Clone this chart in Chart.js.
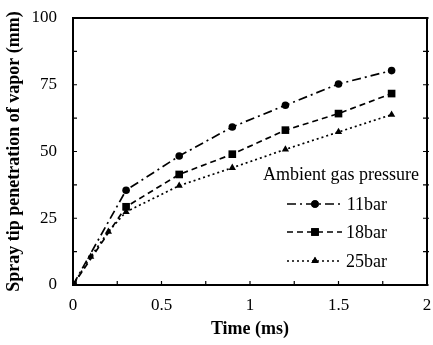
<!DOCTYPE html>
<html><head><meta charset="utf-8">
<script src="https://cdn.jsdelivr.net/npm/chart.js@4/dist/chart.umd.min.js"></script>
<style>html,body{margin:0;padding:0;background:#fff;overflow:hidden}#wrap{width:433px;height:345px}canvas{display:block}</style>
</head><body><div id="wrap"><canvas id="c" width="433" height="345"></canvas></div>
<script>
const seriesNames = ['11bar', '18bar', '25bar'];
const times = [0, 0.3, 0.6, 0.9, 1.2, 1.5, 1.8];
const p11 = [0, 35.5, 48.3, 59.2, 67.3, 75.3, 80.3];
const p18 = [0, 29.3, 41.4, 49.0, 58.0, 64.2, 71.7];
const times25 = [0, 0.1, 0.2, 0.3, 0.6, 0.9, 1.2, 1.5, 1.8];
const p25 = [0, 10.6, 20.0, 27.4, 37.2, 43.9, 50.8, 57.3, 63.8];
const xTicks = [0, 0.5, 1, 1.5, 2];
const xTickLabels = ['0', '0.5', '1', '1.5', '2'];
const yTicks = [0, 25, 50, 75, 100];
const yTickLabels = ['0', '25', '50', '75', '100'];
const xMinor = [0.25, 0.75, 1.25, 1.75];
const yMinor = [12.5, 37.5, 62.5, 87.5];
const legendTitle = 'Ambient gas pressure';
const xTitle = 'Time (ms)';
const yTitle = 'Spray tip penetration of vapor (mm)';

const FONT = "'Liberation Serif', 'DejaVu Serif', serif";
const toXY = (xs, ys) => xs.map((x, i) => ({x: x, y: ys[i]}));

const styles = [
  {dash: [9, 4, 2, 4], point: 'circle', radius: 3.8},
  {dash: [6, 4], point: 'rect', radius: 5.4},
  {dash: [2, 3], point: 'triangle', radius: 4.2}
];
const dataSets = [toXY(times, p11), toXY(times, p18), toXY(times25, p25)];

const framePlugin = {
  id: 'frame',
  afterDraw(chart) {
    const {ctx, chartArea: a, scales} = chart;
    ctx.save();
    ctx.strokeStyle = '#000';
    ctx.setLineDash([]);
    ctx.lineWidth = 1.2;
    const tl = 4;
    ctx.beginPath();
    [...xTicks, ...xMinor].forEach(v => {
      const x = scales.x.getPixelForValue(v);
      ctx.moveTo(x, a.bottom); ctx.lineTo(x, a.bottom - tl);
    });
    [...yTicks, ...yMinor].forEach(v => {
      const y = scales.y.getPixelForValue(v);
      ctx.moveTo(a.left, y); ctx.lineTo(a.left + tl, y);
      ctx.moveTo(a.right + 2, y); ctx.lineTo(a.right - tl, y);
    });
    ctx.stroke();

    // legend
    ctx.fillStyle = '#000';
    ctx.font = "18px " + FONT;
    ctx.textBaseline = 'middle';
    ctx.textAlign = 'center';
    ctx.fillText(legendTitle, 341, 175);
    const rows = [204, 232, 261];
    ctx.textAlign = 'right';
    seriesNames.forEach((name, i) => {
      const y = rows[i];
      const tw = ctx.measureText(name).width;
      const textRight = 387;
      const lineEnd = textRight - tw - 4;
      ctx.fillText(name, textRight, y + 1);
      ctx.save();
      ctx.lineWidth = 1.6;
      ctx.setLineDash(styles[i].dash);
      ctx.beginPath();
      ctx.moveTo(287, y); ctx.lineTo(lineEnd, y);
      ctx.stroke();
      ctx.restore();
      Chart.helpers.drawPoint(ctx, {pointStyle: styles[i].point, radius: styles[i].radius, rotation: 0, borderWidth: 0}, 315, y);
      ctx.fill();
    });
    ctx.restore();
  }
};

const zeroPad = s => { s.paddingTop = 0; s.paddingBottom = 0; s.paddingLeft = 0; s.paddingRight = 0; };
const frameBorder = {display: true, color: '#000', width: 2};

new Chart(document.getElementById('c'), {
  type: 'line',
  data: {
    datasets: dataSets.map((d, i) => ({
      label: seriesNames[i],
      data: d,
      borderColor: '#000',
      backgroundColor: '#000',
      borderWidth: 1.7,
      borderDash: styles[i].dash,
      pointStyle: styles[i].point,
      pointRadius: styles[i].radius,
      pointBorderWidth: 0,
      pointBackgroundColor: '#000',
      tension: 0,
      fill: false
    }))
  },
  options: {
    responsive: false,
    animation: false,
    devicePixelRatio: 1,
    layout: {padding: {left: 0, right: 6, top: 18, bottom: 0}},
    plugins: {legend: {display: false}, tooltip: {enabled: false}},
    scales: {
      x: {
        type: 'linear', min: 0, max: 2, position: 'bottom',
        afterBuildTicks: s => { s.ticks = xTicks.map(v => ({value: v})); },
        afterFit: s => { s.height = 60; zeroPad(s); },
        grid: {display: true, drawOnChartArea: false, drawTicks: false},
        border: frameBorder,
        ticks: {color: '#000', font: {family: FONT, size: 17}, padding: 10, maxRotation: 0,
                callback: (v, i) => xTickLabels[i]},
        title: {display: true, text: xTitle, color: '#000', font: {family: FONT, size: 18, weight: 'bold'}, padding: {top: 2, bottom: 5}}
      },
      x2: {
        type: 'linear', min: 0, max: 2, position: 'top',
        afterFit: s => { s.height = 0; zeroPad(s); },
        grid: {display: true, drawOnChartArea: false, drawTicks: false},
        border: frameBorder,
        ticks: {display: false}
      },
      y: {
        type: 'linear', min: 0, max: 100, position: 'left',
        afterBuildTicks: s => { s.ticks = yTicks.map(v => ({value: v})); },
        afterFit: s => { s.width = 73; zeroPad(s); },
        grid: {display: true, drawOnChartArea: false, drawTicks: false},
        border: frameBorder,
        ticks: {color: '#000', font: {family: FONT, size: 17}, padding: 16,
                callback: (v, i) => yTickLabels[i]},
        title: {display: true, text: yTitle, color: '#000', font: {family: FONT, size: 18, weight: 'bold'}, padding: {top: 4, bottom: 4}}
      },
      y2: {
        type: 'linear', min: 0, max: 100, position: 'right',
        afterFit: s => { s.width = 0; zeroPad(s); },
        grid: {display: true, drawOnChartArea: false, drawTicks: false},
        border: frameBorder,
        ticks: {display: false}
      }
    }
  },
  plugins: [framePlugin]
});
</script></body></html>
